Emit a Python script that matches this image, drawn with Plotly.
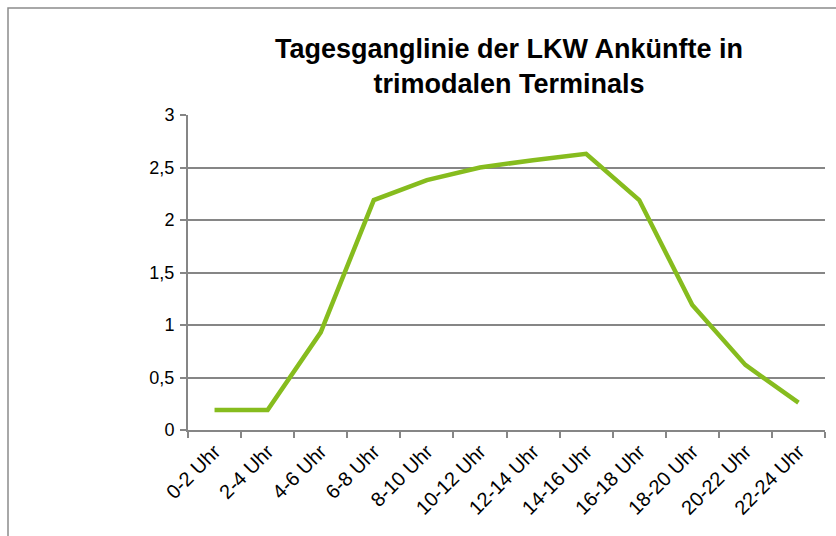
import plotly.graph_objects as go

categories = ["0-2 Uhr", "2-4 Uhr", "4-6 Uhr", "6-8 Uhr", "8-10 Uhr", "10-12 Uhr",
              "12-14 Uhr", "14-16 Uhr", "16-18 Uhr", "18-20 Uhr", "20-22 Uhr", "22-24 Uhr"]
arrivals = [0.19, 0.19, 0.93, 2.19, 2.38, 2.50, 2.57, 2.63, 2.19, 1.19, 0.62, 0.26]
y_ticks = [0, 0.5, 1, 1.5, 2, 2.5, 3]

W, H = 836, 536
L, R, T, B = 188, 11, 115, 106
pw, ph = W - L - R, H - T - B

def px_x(px):
    return (px - L) / pw

def px_y(py):
    return (H - B - py) / ph

grey = "#868686"
fig = go.Figure()
fig.add_trace(go.Scatter(
    x=categories, y=arrivals, mode="lines",
    line=dict(color="#86BC1E", width=4.5),
    showlegend=False, hoverinfo="skip",
))

fig.update_layout(
    width=W, height=H,
    margin=dict(l=L, r=R, t=T, b=B, autoexpand=False),
    paper_bgcolor="white", plot_bgcolor="white",
    separators=",.",
    font=dict(family="Liberation Sans, Arial, sans-serif", color="black", size=18),
    title=dict(
        text="<b>Tagesganglinie der LKW Ankünfte in<br>trimodalen Terminals</b>",
        font=dict(size=27, family="Liberation Sans, Arial, sans-serif", color="black"),
        x=509 / W, xanchor="center",
        yref="container", y=1 - 58 / H, yanchor="top",
    ),
    xaxis=dict(
        type="category", tickson="boundaries", range=[-0.5, len(categories) - 0.5],
        ticks="outside", ticklen=6, tickwidth=1.5, tickcolor=grey,
        showline=True, linecolor=grey, linewidth=2,
        showgrid=False, tickangle=-45, automargin=False,
        tickfont=dict(size=20),
    ),
    yaxis=dict(
        range=[0, 3], tickvals=y_ticks,
        ticks="outside", ticklen=6, tickwidth=1.5, tickcolor=grey,
        showline=True, linecolor=grey, linewidth=2,
        showgrid=True, gridcolor=grey, gridwidth=1.5,
        zeroline=False, tickfont=dict(size=18), automargin=False,
        ticklabelstandoff=2,
    ),
    shapes=[dict(
        type="rect", xref="paper", yref="paper",
        x0=px_x(8), x1=px_x(845), y0=px_y(545), y1=px_y(8),
        line=dict(color="#8c8c8c", width=1.5), fillcolor="rgba(0,0,0,0)",
        layer="below",
    )],
)

fig.write_html("out.html", config={"displayModeBar": False},
               post_script="document.body.style.margin='0';document.body.style.overflow='hidden';")
